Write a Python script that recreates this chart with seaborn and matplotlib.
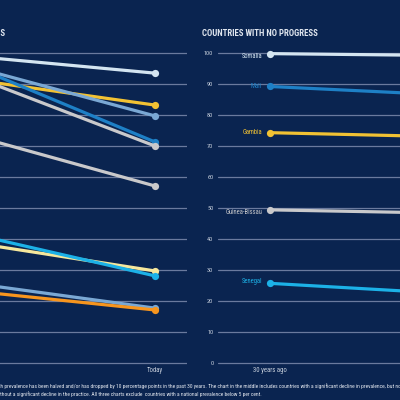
import numpy as np
import pandas as pd
import matplotlib
matplotlib.use("Agg")
import matplotlib.pyplot as plt
from matplotlib import font_manager as fm
import seaborn as sns

# ---------------- data ----------------
periods = ["30 years ago", "Today"]

some_title = "COUNTRIES WITH SOME PROGRESS"
some_countries = ["Country 1", "Country 2", "Country 3", "Country 4", "Country 5",
                  "Country 6", "Country 7", "Country 8", "Country 9", "Country 10"]
some_then = [99.5, 92.2, 97.1, 98.2, 94.7, 75.0, 39.7, 42.9, 26.5, 23.8]
some_now = [93.5, 83.2, 79.7, 71.3, 70.0, 57.1, 29.7, 28.1, 17.7, 17.1]
some_colors = ["#d4e5f1", "#f2c233", "#7aa8d4", "#1e80c6", "#c9c9cb",
               "#c9c9cb", "#f6e79c", "#1cb1e7", "#7aa8d4", "#f7951e"]

none_title = "COUNTRIES WITH NO PROGRESS"
none_countries = ["Somalia", "Mali", "Gambia", "Guinea-Bissau", "Senegal"]
none_then = [99.8, 89.2, 74.3, 49.4, 25.7]
none_now = [99.1, 86.1, 72.8, 48.2, 22.0]
none_colors = ["#d4e5f1", "#1e80c6", "#f2c233", "#c9c9cb", "#1cb1e7"]

y_ticks = list(range(0, 101, 10))

note_line1 = ("Note: The chart on the left includes countries in which prevalence has been halved "
              "and/or has dropped by 10 percentage points in the past 30 years. The chart in the middle "
              "includes countries with a significant decline in prevalence, but not by as much.")
note_line2 = ("The chart on the right includes countries without a significant decline in the practice. "
              "All three charts exclude  countries with a national prevalence below 5 per cent.")

# ---------------- style ----------------
BG = "#0a2450"
GRID = "#6a7a9e"
TXT = "#c8d0dc"
sns.set_theme(style="dark", rc={"axes.facecolor": BG, "figure.facecolor": BG})

cond = None
for f in ["Roboto Condensed", "Open Sans Condensed", "Liberation Sans Narrow",
          "Arial Narrow", "DejaVu Sans Condensed"]:
    try:
        fm.findfont(fm.FontProperties(family=f), fallback_to_default=False)
        cond = f
        break
    except ValueError:
        pass
plt.rcParams["font.family"] = [cond, "DejaVu Sans"] if cond else ["DejaVu Sans"]
boost = 1.0 if cond else 1.28
tboost = 1.0 if cond else 1.12

W = H = 400.0
fig = plt.figure(figsize=(4, 4), dpi=100)
fig.patch.set_facecolor(BG)
r = fig.canvas.get_renderer()


def width_of(s, size, weight="normal"):
    t = fig.text(0, 0, s, fontsize=size, fontweight=weight)
    w = t.get_window_extent(r).width
    t.remove()
    return w


fs_ytick = boost * 6 * 9.5 / width_of("100", 6)
fs_xtick = boost * 6 * 34 / width_of(periods[0], 6)
fs_label = boost * 6 * 37 / width_of("Guinea-Bissau", 6)
fs_title = tboost * 8 * 116 / width_of(none_title, 8, "bold")

# panel geometry (pixels): x=0 at 30yrs point, 200 px between periods
unit = 200.0
xlim = (-0.26, 1.16)
ylim = (-0.5, 100.5)
ppu_y = 3.1
ax_h = (ylim[1] - ylim[0]) * ppu_y
ax_bottom = (400 - 363) - 0.5 * ppu_y
ax_w = (xlim[1] - xlim[0]) * unit


def make_panel(left_px, countries, then, now, colors):
    ax = fig.add_axes([left_px / W, ax_bottom / H, ax_w / W, ax_h / H])
    ax.set_facecolor(BG)
    df = pd.DataFrame({
        "country": np.repeat(countries, 2),
        "x": np.tile([0, 1], len(countries)),
        "value": np.column_stack([then, now]).ravel(),
    })
    sns.lineplot(data=df, x="x", y="value", hue="country", hue_order=countries,
                 palette=dict(zip(countries, colors)), marker="o", markersize=5.2,
                 markeredgewidth=0, linewidth=2.3, legend=False, sort=False,
                 ax=ax, clip_on=False)
    ax.set_xlim(*xlim)
    ax.set_ylim(*ylim)
    ax.set_yticks(y_ticks)
    ax.set_xticks([0, 1])
    ax.set_xticklabels(periods)
    ax.grid(axis="y", color=GRID, linewidth=0.9)
    ax.grid(axis="x", visible=False)
    ax.set_axisbelow(True)
    for s in ax.spines.values():
        s.set_visible(False)
    ax.tick_params(axis="y", length=0, pad=3.4, labelsize=fs_ytick, labelcolor=TXT)
    ax.tick_params(axis="x", length=0, pad=1.8, labelsize=fs_xtick, labelcolor=TXT)
    ax.set_xlabel("")
    ax.set_ylabel("")
    return ax


ax_mid = make_panel(155 - unit - 0.26 * unit, some_countries, some_then, some_now, some_colors)
ax_right = make_panel(270 - 0.26 * unit, none_countries, none_then, none_now, none_colors)

# country labels on the right panel
label_dy = [3.0, 0.2, 0.0, 2.4, -1.6]  # pixel offsets (down positive)
for name, v, c, dy in zip(none_countries, none_then, none_colors, label_dy):
    ax_right.annotate(name, xy=(0, v), xytext=(-8 * 0.72, -dy * 0.72),
                      textcoords="offset points", ha="right", va="center",
                      color=c, fontsize=fs_label)

# titles
fig.text(202 / W, 1 - 33 / H, none_title, ha="left", va="center",
         color="#dfe5ee", fontsize=fs_title, fontweight="bold")
fig.text(5.5 / W, 1 - 33 / H, some_title, ha="right", va="center",
         color="#dfe5ee", fontsize=fs_title, fontweight="bold")

# note lines
sub1 = "prevalence has been halved and/or has dropped by 10 percentage points in the past 30 years."
fs_note = 5 * 206 / width_of(sub1, 5)
pre1 = note_line1[:note_line1.index(sub1)]
x1 = 4 - width_of(pre1, fs_note)
fig.text(x1 / W, 1 - 385.7 / H, note_line1, ha="left", va="center",
         color="#e6eaf1", fontsize=fs_note)
pre2 = note_line2[:note_line2.index("thout")]
x2 = 0 - width_of(pre2, fs_note)
fig.text(x2 / W, 1 - 394 / H, note_line2, ha="left", va="center",
         color="#e6eaf1", fontsize=fs_note)

fig.savefig("out.png", dpi=100, facecolor=BG)
